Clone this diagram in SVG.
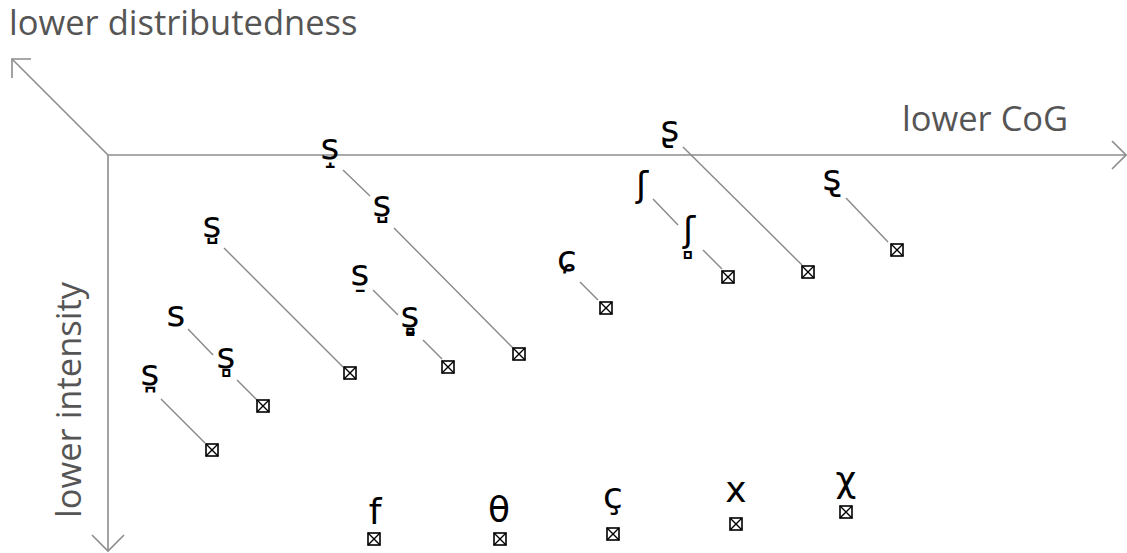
<svg xmlns="http://www.w3.org/2000/svg" xmlns:xlink="http://www.w3.org/1999/xlink" width="1127" height="553" viewBox="0 0 1127 553">
<style>
.axis{stroke:#8c8c8c;stroke-width:1.6;fill:none}
.ax-label{font-family:"Open Sans","Noto Sans","DejaVu Sans",sans-serif;font-size:34.5px;fill:#555555}
.lbl{font-family:"DejaVu Sans",sans-serif;font-size:36px;fill:#000;text-anchor:middle}
.conn line{stroke:#888888;stroke-width:1.4}
.box{fill:#fff;stroke:#000;stroke-width:1.6}
</style>
<defs>
<g id="mk">
<rect class="box" x="-6" y="-6" width="12" height="12"/>
<path d="M-6,-6L6,6M6,-6L-6,6" stroke="#000" stroke-width="1.4"/>
</g>
</defs>
<rect width="1127" height="553" fill="#fff"/>
<g id="axes">
<line class="axis" x1="108" y1="155" x2="1125" y2="155"/>
<polyline class="axis" points="1112,141 1126,155 1112,169"/>
<line class="axis" x1="108" y1="155" x2="12" y2="59"/>
<polyline class="axis" points="12,78 12,59 31,59"/>
<line class="axis" x1="108" y1="155" x2="108" y2="550"/>
<polyline class="axis" points="92,535 108,551 124,535"/>
<text class="ax-label" x="9" y="35">lower distributedness</text>
<text class="ax-label" x="902" y="131">lower CoG</text>
<text class="ax-label" transform="translate(81,518) rotate(-90)">lower intensity</text>
</g>
<g id="connectors" class="conn">
<line x1="343" y1="170" x2="370" y2="196"/>
<line x1="394" y1="228" x2="513" y2="348"/>
<line x1="224" y1="248" x2="343" y2="367"/>
<line x1="188" y1="329" x2="213" y2="355"/>
<line x1="237" y1="380" x2="257" y2="400"/>
<line x1="161" y1="399" x2="205" y2="443"/>
<line x1="373" y1="290" x2="398" y2="315"/>
<line x1="423" y1="340" x2="442" y2="359"/>
<line x1="580" y1="282" x2="598" y2="300"/>
<line x1="653" y1="199" x2="678" y2="225"/>
<line x1="703" y1="250" x2="722" y2="269"/>
<line x1="683" y1="147" x2="802" y2="265"/>
<line x1="846" y1="198" x2="888" y2="242"/>
</g>
<g id="n-s-raised"><text class="lbl" x="330" y="159">s̝</text></g>
<g id="n-s-apical-retracted"><text class="lbl" x="382" y="216">s̺̠</text></g>
<g id="m1"><use xlink:href="#mk" x="519" y="354"/></g>
<g id="n-s-apical"><text class="lbl" x="212" y="237">s̺</text></g>
<g id="m2"><use xlink:href="#mk" x="350" y="373"/></g>
<g id="n-s"><text class="lbl" x="176" y="326">s</text></g>
<g id="n-s-laminal"><text class="lbl" x="226" y="368">s̻</text></g>
<g id="m3"><use xlink:href="#mk" x="263" y="406"/></g>
<g id="n-s-dental"><text class="lbl" x="150" y="385">s̪</text></g>
<g id="m4"><use xlink:href="#mk" x="212" y="450"/></g>
<g id="n-s-retracted"><text class="lbl" x="360" y="285">s̠</text></g>
<g id="n-s-retracted-laminal"><text class="lbl" x="410" y="327">s̠̻</text></g>
<g id="m5"><use xlink:href="#mk" x="448" y="367"/></g>
<g id="n-c-curl"><text class="lbl" x="567" y="271">ɕ</text></g>
<g id="m6"><use xlink:href="#mk" x="606" y="308"/></g>
<g id="n-esh"><text class="lbl" x="642" y="197">ʃ</text></g>
<g id="n-esh-laminal"><text class="lbl" x="689" y="242">ʃ̻</text></g>
<g id="m7"><use xlink:href="#mk" x="728" y="277"/></g>
<g id="n-retroflex"><text class="lbl" x="670" y="141">ʂ</text></g>
<g id="m8"><use xlink:href="#mk" x="808" y="272"/></g>
<g id="n-retroflex2"><text class="lbl" x="832" y="190">s̢</text></g>
<g id="m9"><use xlink:href="#mk" x="897" y="250"/></g>
<g id="n-f"><text class="lbl" x="375" y="524">f</text></g>
<g id="m10"><use xlink:href="#mk" x="374" y="539"/></g>
<g id="n-theta"><text class="lbl" x="499" y="522">θ</text></g>
<g id="m11"><use xlink:href="#mk" x="500" y="539"/></g>
<g id="n-c-cedilla"><text class="lbl" x="613" y="508">ç</text></g>
<g id="m12"><use xlink:href="#mk" x="613" y="534"/></g>
<g id="n-x"><text class="lbl" x="736" y="502">x</text></g>
<g id="m13"><use xlink:href="#mk" x="736" y="524"/></g>
<g id="n-chi"><text class="lbl" x="846" y="492">χ</text></g>
<g id="m14"><use xlink:href="#mk" x="846" y="512"/></g>
</svg>
